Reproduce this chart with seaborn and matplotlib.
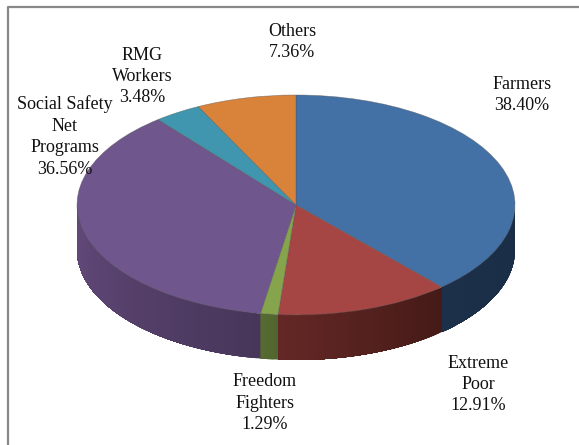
import numpy as np
import matplotlib
matplotlib.use('Agg')
import matplotlib.pyplot as plt
import seaborn as sns

groups = ['Farmers', 'Extreme\nPoor', 'Freedom\nFighters', 'Social Safety\nNet\nPrograms', 'RMG\nWorkers', 'Others']
shares = [38.40, 12.91, 1.29, 36.56, 3.48, 7.36]
top_colors = ['#4371a6', '#a54644', '#86a44c', '#6f568c', '#3f96ae', '#d98239']
# wall shade at the start and end of each slice, clockwise
wall_colors = [('#1a2d46', '#1c3049'), ('#451a17', '#632826'), ('#52652f', '#566a32'),
               ('#47365a', '#644a7c'), ('#2b6678', '#2b6678'), ('#945926', '#945926')]
label_px = [(522, 95), (478, 384.5), (265, 403), (65, 136.5), (142, 76.5), (292, 42)]

W, H = 579, 445
CX, CY, RX, RY, DEPTH = 296, 205, 219, 110, 45


def to_data(px, py):
    return (px - CX) / RX, (CY - py) / RY


sns.set_theme(style='white')
plt.rcParams['font.family'] = ['Liberation Serif', 'DejaVu Serif']

fig = plt.figure(figsize=(W / 100, H / 100), dpi=100)
ax = fig.add_axes([0, 0, 1, 1])

ax.pie(shares, colors=top_colors, startangle=90, counterclock=False, radius=1,
       wedgeprops={'linewidth': 0.5, 'edgecolor': '#55555588', 'zorder': 3})
ax.set_aspect('auto')
ax.set_xlim(to_data(0, 0)[0], to_data(W, 0)[0])
ax.set_ylim(to_data(0, H)[1], to_data(0, 0)[1])

# side wall, only the front half of the rim shows
# each strip runs on to the end of its slice so no seams show between strips
depth = DEPTH / RY
ends = np.cumsum([0] + shares) * 3.6
for i in range(len(shares)):
    t0, t1 = max(ends[i], 90), min(ends[i + 1], 270)
    if t1 <= t0:
        continue
    n = max(int(t1 - t0), 1)
    shades = sns.blend_palette(wall_colors[i], n)
    starts = np.linspace(t0, t1, n + 1)[:-1]
    for k in range(n):
        t = np.radians(np.linspace(starts[k], t1, 60))
        x = np.sin(t)
        y = np.cos(t)
        ax.fill(np.r_[x, x[::-1]], np.r_[y, y[::-1] - depth], facecolor=shades[k], lw=0, zorder=1)

for name, value, (px, py) in zip(groups, shares, label_px):
    x, y = to_data(px, py)
    ax.text(x, y, f'{name}\n{value:.2f}%', ha='center', va='center', fontsize=13,
            linespacing=1.34, color='#111111', zorder=5)

# grey frame, cropped at the right and bottom of the picture
ax.plot(*zip(to_data(7.5, H), to_data(7.5, 7.5), to_data(W, 7.5)), color='#888888', lw=1.6, zorder=6)

fig.savefig('out.png', dpi=100)
